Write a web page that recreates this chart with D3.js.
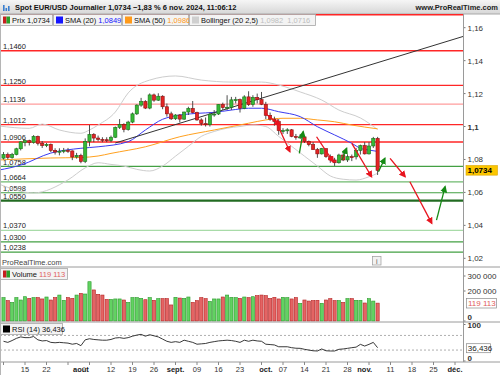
<!DOCTYPE html>
<html>
<head>
<meta charset="utf-8">
<script src="https://cdn.jsdelivr.net/npm/d3@7"></script>
<style>
  body { margin: 0; background: #fff; }
  text { font-family: "Liberation Sans", Arial, sans-serif; }
</style>
</head>
<body>
<svg id="chart" width="500" height="375"></svg>
<script>
// Daily candles, index 0 = 8 Jul 2024 (trading days only)
const open = [1.0808,1.0830,1.0812,1.0830,1.0865,1.0902,1.0914,1.0903,1.0940,1.0898,
  1.0884,1.0892,1.0855,1.0845,1.0850,1.0855,1.0852,1.0815,1.0825,1.0788,
  1.0910,1.0952,1.0930,1.0922,1.0920,1.0915,1.0935,1.0995,1.1012,1.0982,
  1.1027,1.1077,1.1130,1.1152,1.1112,1.1192,1.1160,1.1184,1.1120,1.1077,
  1.1047,1.1070,1.1045,1.1088,1.1110,1.1085,1.1040,1.1018,1.1011,1.1075,
  1.1076,1.1134,1.1115,1.1117,1.1162,1.1163,1.1111,1.1180,1.1133,1.1177,
  1.1163,1.1135,1.1068,1.1045,1.1030,1.0975,1.0975,1.0980,1.0940,1.0936,
  1.0937,1.0910,1.0890,1.0860,1.0834,1.0866,1.0817,1.0797,1.0780,1.0827,
  1.0797,1.0817,1.0816,1.0855,1.0884,1.0834,1.0882,1.0928];
const close = [1.0830,1.0812,1.0830,1.0865,1.0907,1.0914,1.0903,1.0940,1.0898,1.0884,
  1.0892,1.0855,1.0845,1.0850,1.0855,1.0852,1.0815,1.0825,1.0788,1.0910,
  1.0952,1.0930,1.0922,1.0920,1.0915,1.0935,1.0995,1.1012,1.0982,1.1027,
  1.1077,1.1130,1.1152,1.1112,1.1192,1.1160,1.1184,1.1120,1.1077,1.1047,
  1.1070,1.1045,1.1088,1.1110,1.1085,1.1040,1.1018,1.1011,1.1075,1.1076,
  1.1134,1.1115,1.1117,1.1162,1.1163,1.1111,1.1180,1.1133,1.1177,1.1163,
  1.1135,1.1068,1.1045,1.1030,1.0975,1.0975,1.0980,1.0940,1.0936,1.0937,
  1.0910,1.0890,1.0860,1.0834,1.0866,1.0817,1.0797,1.0780,1.0827,1.0797,
  1.0817,1.0816,1.0855,1.0884,1.0834,1.0882,1.0928,1.0734];
const high = [1.0845,1.0842,1.0840,1.0871,1.0910,1.0922,1.0920,1.0948,1.0945,1.0912,
  1.0900,1.0897,1.0868,1.0868,1.0870,1.0870,1.0855,1.0840,1.0835,1.0928,
  1.1009,1.0960,1.0945,1.0935,1.0935,1.0945,1.1000,1.1045,1.1020,1.1035,
  1.1085,1.1135,1.1174,1.1160,1.1201,1.1200,1.1202,1.1190,1.1140,1.1090,
  1.1075,1.1075,1.1090,1.1120,1.1155,1.1090,1.1050,1.1055,1.1085,1.1100,
  1.1135,1.1145,1.1190,1.1180,1.1180,1.1170,1.1190,1.1214,1.1190,1.1200,
  1.1210,1.1150,1.1085,1.1060,1.1045,1.0990,1.0990,1.0985,1.0955,1.0955,
  1.0940,1.0915,1.0905,1.0870,1.0870,1.0866,1.0830,1.0810,1.0835,1.0840,
  1.0830,1.0830,1.0870,1.0890,1.0905,1.0905,1.0937,1.0937];
const low = [1.0800,1.0800,1.0805,1.0825,1.0855,1.0880,1.0885,1.0896,1.0885,1.0870,
  1.0875,1.0845,1.0830,1.0825,1.0838,1.0840,1.0796,1.0805,1.0777,1.0778,
  1.0880,1.0905,1.0910,1.0905,1.0905,1.0905,1.0930,1.0985,1.0965,1.0975,
  1.1020,1.1070,1.1120,1.1106,1.1105,1.1150,1.1155,1.1105,1.1060,1.1040,
  1.1040,1.1025,1.1040,1.1070,1.1080,1.1035,1.1005,1.1000,1.1000,1.1060,
  1.1070,1.1100,1.1100,1.1100,1.1140,1.1085,1.1105,1.1125,1.1120,1.1140,
  1.1130,1.1045,1.1035,1.1005,1.0950,1.0955,1.0955,1.0935,1.0920,1.0925,
  1.0900,1.0880,1.0860,1.0810,1.0830,1.0810,1.0780,1.0761,1.0775,1.0790,
  1.0785,1.0790,1.0800,1.0830,1.0830,1.0830,1.0870,1.0706];
// volume in thousands
const volume = [156,136,124,156,140,162,151,156,156,147,
  160,140,156,173,138,156,151,173,184,180,
  262,207,178,173,144,144,147,147,140,124,
  156,156,151,142,156,138,149,149,149,107,
  158,153,151,160,124,136,156,149,131,147,
  147,160,173,158,156,151,160,156,162,169,
  173,169,151,158,147,158,156,147,156,118,
  140,133,136,138,118,140,149,136,136,124,
  149,149,138,138,120,149,133,119.113];
const rsi = [54,51,56,62,66,64,64,67,58,55,
  56,51,50,51,50,49,46,48,42,58,
  61,59,58,57,57,59,63,64,62,64,
  68,71,73,68,72,69,66,60,54,51,
  53,51,57,54,51,46,47,48,51,53,
  55,56,57,56,54,51,57,54,57,55,
  54,46,45,44,39,39,39,36.5,35,34.7,
  32,30,28,27.4,33,28,27.4,27.4,32,33,
  34.7,36.5,38,45.6,41,45.6,51,36.436];

// indicator lines (day index, price)
const sma20Idx = [-1,4,11,18,22,29,33,37,39,45,49,53,57,60,64,69,73,77,81,83,85,87];
const sma20Val = [1.0736,1.0766,1.0839,1.0868,1.0877,1.0908,1.0979,1.1044,1.1060,1.1080,1.1086,1.1100,1.1111,1.1111,1.1090,1.1060,1.0999,1.0949,1.0898,1.0868,1.0857,1.0849];
const sma50Idx = [-1,11,18,22,25,33,41,49,57,61,65,69,73,77,81,87];
const sma50Val = [1.0797,1.0809,1.0812,1.0821,1.0837,1.0877,1.0938,1.0979,1.1020,1.1040,1.1050,1.1050,1.1040,1.1029,1.1009,1.0986];
const bbUpIdx = [-1,6,9,13,18,20,22,26,29,34,40,46,53,60,64,69,74,78,83,87];
const bbUpVal = [1.1003,1.0989,1.1015,1.0979,1.0959,1.0979,1.1009,1.1088,1.1204,1.1282,1.1307,1.1282,1.1270,1.1270,1.1252,1.1210,1.1161,1.1100,1.1052,1.0982];
const bbLoIdx = [-1,7,15,19,22,25,28,31,34,37,40,43,46,49,52,55,58,61,64,67,70,73,76,79,82,85,87];
const bbLoVal = [1.0650,1.0597,1.0676,1.0749,1.0780,1.0770,1.0760,1.0740,1.0730,1.0760,1.0820,1.0880,1.0940,1.0970,1.0990,1.1000,1.1010,1.1000,1.0940,1.0880,1.0820,1.0760,1.0700,1.0680,1.0675,1.0695,1.0716];

// hand-drawn levels and projections
const resistLevels = [1.1680,1.1460,1.1250,1.1136,1.1012,1.0906];
const supportLevels = [1.0758,1.0664,1.0598,1.0550,1.0370,1.0300,1.0238];
const trendIdx = [26,106.9];
const trendVal = [1.0900,1.1547];
const redArrows = [[60.8,1.1080,64.3,1.1009],[63.9,1.1000,66.6,1.0847],[72.8,1.0938,76.7,1.0786],
  [81,1.0898,85.6,1.0695],[89.9,1.0807,93.4,1.0695],[94.5,1.0665,99.6,1.0412]];
const greenArrows = [[68.8,1.0837,69.7,1.0969],[78.7,1.0797,79.8,1.0868],[87.2,1.0726,88.7,1.0807],[100.7,1.0432,102.7,1.0635]];

// axes labels
const priceTicks = [1.02,1.04,1.06,1.08,1.10,1.12,1.14,1.16];
const volTicks = [0,200000,300000];
const rsiTicks = [0,100];
const dayTicks = [[5,'15'],[10,'22'],[25,'12'],[30,'19'],[35,'26'],[45,'09'],[50,'16'],[55,'23'],
  [65,'07'],[70,'14'],[75,'21'],[80,'28'],[90,'11'],[95,'18'],[100,'25']];
const monthTicks = [[18,'août'],[40,'sept.'],[61,'oct.'],[84,'nov.'],[105,'déc.']];

const svg = d3.select('#chart');
const plotR = 463;
const x = d3.scaleLinear().domain([0, 105]).range([3.5, 455]);
const y = d3.scaleLinear().domain([1.02, 1.16]).range([258.3, 27.7]);
const yVol = d3.scaleLinear().domain([0, 300000]).range([321, 276]);
const yRsi = d3.scaleLinear().domain([0, 100]).range([361, 324.5]);
const comma = v => String(+v.toFixed(4)).replace('.', ',');
const level = v => v.toFixed(4).replace('.', ',');

const defs = svg.append('defs');
const grad = defs.append('linearGradient').attr('id', 'hdr').attr('x1', 0).attr('x2', 0).attr('y1', 0).attr('y2', 1);
grad.append('stop').attr('offset', '0%').attr('stop-color', '#f6f6f6');
grad.append('stop').attr('offset', '100%').attr('stop-color', '#d6d6d6');
defs.append('clipPath').attr('id', 'pclip').append('rect').attr('x', 0).attr('y', 14).attr('width', plotR).attr('height', 253);
[['ared', '#e8141e'], ['agreen', '#158a15']].forEach(([id, c]) => {
  defs.append('marker').attr('id', id).attr('viewBox', '0 0 10 10')
    .attr('refX', 8).attr('refY', 5).attr('markerWidth', 7).attr('markerHeight', 7)
    .attr('markerUnits', 'userSpaceOnUse').attr('orient', 'auto')
    .append('path').attr('d', 'M0,0L10,5L0,10z').attr('fill', c);
});

// ---------- header ----------
svg.append('rect').attr('width', 500).attr('height', 14).attr('fill', 'url(#hdr)');
svg.append('line').attr('x1', 0).attr('x2', 500).attr('y1', 14).attr('y2', 14).attr('stroke', '#a8a8a8');
[[3, 6], [5.5, 3], [8, 5]].forEach(([bx, bh]) => {
  svg.append('rect').attr('x', bx).attr('y', 11 - bh).attr('width', 1.6).attr('height', bh).attr('fill', '#3a7fd0');
});
svg.append('text').attr('x', 15).attr('y', 10.3).attr('font-size', 7.5).attr('font-weight', 'bold').attr('fill', '#111')
  .text('Spot EUR/USD Journalier 1,0734 \u22121,83 % 6 nov. 2024, 11:06:12');
svg.append('text').attr('x', 498).attr('y', 10.3).attr('text-anchor', 'end').attr('font-size', 7.5)
  .attr('font-weight', 'bold').attr('fill', '#222').text('www.ProRealTime.com');

// ---------- price panel ----------
const pg = svg.append('g').attr('clip-path', 'url(#pclip)');

const greenCol = d => d === 1.0550 ? '#226b22' : d === 1.0370 ? '#a8dba8' : d === 1.0664 ? '#6fba6f' : '#43a043';
resistLevels.forEach(l => {
  pg.append('line').attr('x1', 0).attr('x2', plotR).attr('y1', y(l)).attr('y2', y(l))
    .attr('stroke', l === 1.1136 ? '#ff9d9d' : '#ff2626').attr('stroke-width', l === 1.1680 ? 2 : 1.3);
});
supportLevels.forEach(l => {
  pg.append('line').attr('x1', 0).attr('x2', plotR).attr('y1', y(l)).attr('y2', y(l))
    .attr('stroke', greenCol(l)).attr('stroke-width', l === 1.0550 ? 2.4 : 1.2);
});
// labels of levels that sit under the legend row are hidden in the original
resistLevels.concat(supportLevels).filter(l => y(l) > 30).forEach(l => {
  pg.append('text').attr('x', 3).attr('y', y(l) - 1.8).attr('font-size', 7.5).attr('fill', '#222').text(level(l));
});

const curve = (idx, val) => d3.line().x((d, k) => x(idx[k])).y(d => y(d)).curve(d3.curveMonotoneX)(val);
pg.append('path').attr('d', curve(bbUpIdx, bbUpVal)).attr('fill', 'none').attr('stroke', '#cdcdcd').attr('stroke-width', 1);
pg.append('path').attr('d', curve(bbLoIdx, bbLoVal)).attr('fill', 'none').attr('stroke', '#cdcdcd').attr('stroke-width', 1);
pg.append('path').attr('d', curve(sma50Idx, sma50Val)).attr('fill', 'none').attr('stroke', '#ffa11f').attr('stroke-width', 1);
pg.append('path').attr('d', curve(sma20Idx, sma20Val)).attr('fill', 'none').attr('stroke', '#3b3bf0').attr('stroke-width', 1);
pg.append('line').attr('x1', x(trendIdx[0])).attr('y1', y(trendVal[0])).attr('x2', x(trendIdx[1])).attr('y2', y(trendVal[1]))
  .attr('stroke', '#333').attr('stroke-width', 1);

// candles
const idx = d3.range(close.length);
pg.selectAll('.wick').data(idx).enter().append('line')
  .attr('x1', i => x(i)).attr('x2', i => x(i))
  .attr('y1', i => y(high[i])).attr('y2', i => y(low[i]))
  .attr('stroke', '#3a3a3a').attr('stroke-width', 0.9);
pg.selectAll('.body').data(idx).enter().append('rect')
  .attr('x', i => x(i) - 1.6).attr('width', 3.2)
  .attr('y', i => y(Math.max(open[i], close[i])))
  .attr('height', i => Math.max(1, Math.abs(y(open[i]) - y(close[i]))))
  .attr('fill', i => close[i] >= open[i] ? '#35b935' : '#e42424')
  .attr('stroke', i => close[i] >= open[i] ? '#1c701c' : '#8c1010').attr('stroke-width', 0.6);

// arrows
const drawArrows = (list, color, marker) => {
  pg.selectAll(null).data(list).enter().append('line')
    .attr('x1', d => x(d[0])).attr('y1', d => y(d[1])).attr('x2', d => x(d[2])).attr('y2', d => y(d[3]))
    .attr('stroke', color).attr('stroke-width', 1.3).attr('marker-end', `url(#${marker})`);
};
drawArrows(redArrows, '#e8141e', 'ared');
drawArrows(greenArrows, '#158a15', 'agreen');

// legend boxes
const legend = [
  { x: 0.5, w: 52, sw: ['#c62020', '#2aa02a'], label: 'Prix 1,0734', val: '', vc: '#000' },
  { x: 53.5, w: 68, sw: ['#1515ff'], label: 'SMA (20) ', val: '1,0849', vc: '#1515ff' },
  { x: 122.5, w: 66, sw: ['#ff9a1a'], label: 'SMA (50) ', val: '1,0986', vc: '#ff9a1a' },
  { x: 189.5, w: 126, sw: ['#cfcfcf'], label: 'Bollinger (20 2,5) ', val: '1,0982  1,0716', vc: '#bdbdbd' }
];
legend.forEach(b => {
  svg.append('rect').attr('x', b.x).attr('y', 14.5).attr('width', b.w).attr('height', 11)
    .attr('fill', '#f3f3f3').attr('stroke', '#a6a6a6').attr('stroke-width', 0.8);
  b.sw.forEach((c, k) => {
    svg.append('rect').attr('x', b.x + 2.5 + k * 3.5 / b.sw.length * 2).attr('y', 16.5)
      .attr('width', 7 / b.sw.length).attr('height', 7).attr('fill', c);
  });
  const t = svg.append('text').attr('x', b.x + 11.5).attr('y', 23).attr('font-size', 7.5).attr('fill', '#111');
  t.append('tspan').text(b.label);
  t.append('tspan').attr('fill', b.vc).style('white-space', 'pre').text(b.val);
});

// right price axis
priceTicks.forEach(v => {
  svg.append('line').attr('x1', plotR).attr('x2', plotR + 2.5).attr('y1', y(v)).attr('y2', y(v)).attr('stroke', '#777');
  svg.append('text').attr('x', plotR + 4.5).attr('y', y(v) + 3).attr('font-size', 8)
    .attr('font-weight', v === 1.10 ? 'bold' : 'normal').attr('fill', '#333').text(comma(v));
});
svg.append('rect').attr('x', 466).attr('y', y(close[87]) - 4.8).attr('width', 31.5).attr('height', 9.6)
  .attr('fill', '#fcc600').attr('stroke', '#d9a600').attr('stroke-width', 0.6);
svg.append('text').attr('x', 467.5).attr('y', y(close[87]) + 3).attr('font-size', 8).attr('font-weight', 'bold')
  .attr('fill', '#000').text('1,0734');

svg.append('text').attr('x', 2).attr('y', 265).attr('font-size', 7.5).attr('fill', '#444').text('ProRealTime.com');
svg.append('rect').attr('x', 372.5).attr('y', 256.5).attr('width', 8.5).attr('height', 8.5)
  .attr('fill', '#f2f2f2').attr('stroke', '#9a9a9a').attr('stroke-width', 0.7);
svg.append('text').attr('x', 376.8).attr('y', 263.6).attr('text-anchor', 'middle').attr('font-size', 7).attr('fill', '#555').text('i');

// ---------- volume panel ----------
svg.selectAll('.vol').data(idx).enter().append('rect')
  .attr('x', i => x(i) - 1.6).attr('width', 3.2)
  .attr('y', i => yVol(volume[i] * 1000)).attr('height', i => yVol(0) - yVol(volume[i] * 1000))
  .attr('fill', i => close[i] >= open[i] ? '#62d262' : '#e46464')
  .attr('stroke', i => close[i] >= open[i] ? '#2c9a2c' : '#b42222').attr('stroke-width', 0.6);
svg.append('rect').attr('x', 0.5).attr('y', 268.5).attr('width', 67).attr('height', 11)
  .attr('fill', '#f3f3f3').attr('stroke', '#a6a6a6').attr('stroke-width', 0.8);
svg.append('rect').attr('x', 3).attr('y', 270.5).attr('width', 3.5).attr('height', 7).attr('fill', '#c62020');
svg.append('rect').attr('x', 6.5).attr('y', 270.5).attr('width', 3.5).attr('height', 7).attr('fill', '#2aa02a');
const vt = svg.append('text').attr('x', 12).attr('y', 277).attr('font-size', 7.5).attr('fill', '#111');
vt.append('tspan').text('Volume ');
vt.append('tspan').attr('fill', '#e06060').text('119 113');
volTicks.forEach(v => {
  svg.append('line').attr('x1', plotR).attr('x2', plotR + 2.5).attr('y1', yVol(v)).attr('y2', yVol(v)).attr('stroke', '#777');
  svg.append('text').attr('x', plotR + 4.5).attr('y', Math.min(yVol(v) + 3, 319.5)).attr('font-size', 8)
    .attr('font-weight', v === 0 ? 'bold' : 'normal').attr('fill', '#333')
    .text(d3.format(',')(v).replace(/,/g, ' '));
});
svg.append('rect').attr('x', 466.5).attr('y', 298.5).attr('width', 30).attr('height', 9.5)
  .attr('fill', '#fff').attr('stroke', '#8a8a8a').attr('stroke-width', 0.7);
svg.append('text').attr('x', 468).attr('y', 306.3).attr('font-size', 8).attr('fill', '#e05a5a').text('119 113');

// ---------- RSI panel ----------
[70, 30].forEach(v => {
  svg.append('line').attr('x1', 0).attr('x2', plotR).attr('y1', yRsi(v)).attr('y2', yRsi(v))
    .attr('stroke', '#8c8c8c').attr('stroke-width', 0.7).attr('stroke-dasharray', '2,2');
});
svg.append('path').attr('d', d3.line().x((d, i) => x(i)).y(d => yRsi(d))(rsi))
  .attr('fill', 'none').attr('stroke', '#222').attr('stroke-width', 0.9);
svg.append('rect').attr('x', 0.5).attr('y', 323.5).attr('width', 62).attr('height', 11)
  .attr('fill', '#f3f3f3').attr('stroke', '#a6a6a6').attr('stroke-width', 0.8);
svg.append('rect').attr('x', 3).attr('y', 325.5).attr('width', 7).attr('height', 7).attr('fill', '#000');
svg.append('text').attr('x', 12).attr('y', 332).attr('font-size', 7.5).attr('fill', '#111').text('RSI (14) 36,436');
rsiTicks.forEach(v => {
  svg.append('line').attr('x1', plotR).attr('x2', plotR + 2.5).attr('y1', yRsi(v)).attr('y2', yRsi(v)).attr('stroke', '#777');
  svg.append('text').attr('x', plotR + 4.5).attr('y', Math.min(yRsi(v) + 3, 360.5)).attr('font-size', 8)
    .attr('font-weight', 'bold').attr('fill', '#333').text(v);
});
svg.append('rect').attr('x', 466.5).attr('y', yRsi(rsi[87]) - 4).attr('width', 24).attr('height', 9)
  .attr('fill', '#fff').attr('stroke', '#8a8a8a').attr('stroke-width', 0.7);
svg.append('text').attr('x', 467.8).attr('y', yRsi(rsi[87]) + 3).attr('font-size', 8).attr('fill', '#222').text('36,436');

// ---------- frame & time axis ----------
[267, 322, 362].forEach(yy => {
  svg.append('line').attr('x1', 0).attr('x2', 500).attr('y1', yy).attr('y2', yy).attr('stroke', '#9a9a9a').attr('stroke-width', 1);
});
svg.append('line').attr('x1', plotR + 0.5).attr('x2', plotR + 0.5).attr('y1', 14).attr('y2', 362).attr('stroke', '#9a9a9a');
svg.append('line').attr('x1', 0.5).attr('x2', 0.5).attr('y1', 14).attr('y2', 375).attr('stroke', '#b5b5b5');
d3.range(0, 106, 5).forEach(i => {
  svg.append('line').attr('x1', x(i)).attr('x2', x(i)).attr('y1', 362).attr('y2', 365).attr('stroke', '#888');
});
dayTicks.forEach(([i, s]) => {
  svg.append('text').attr('x', x(i)).attr('y', 372).attr('text-anchor', 'middle').attr('font-size', 7.5)
    .attr('fill', '#333').text(s);
});
monthTicks.forEach(([i, s]) => {
  svg.append('text').attr('x', x(i)).attr('y', 372).attr('text-anchor', 'middle').attr('font-size', 7.5)
    .attr('font-weight', 'bold').attr('fill', '#222').text(s);
});
</script>
</body>
</html>
